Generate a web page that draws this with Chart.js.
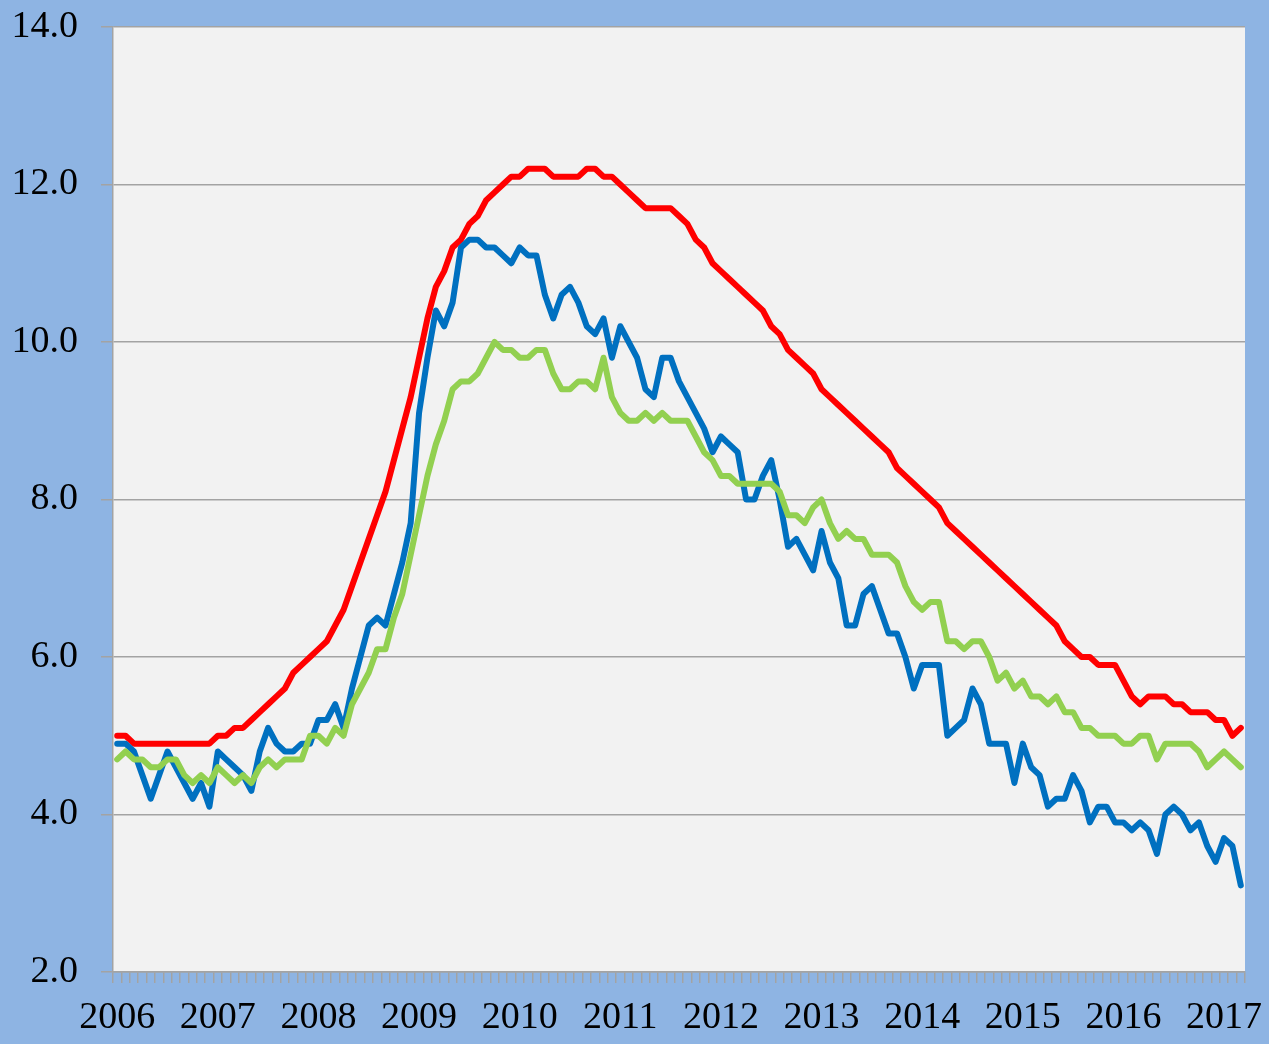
<!DOCTYPE html>
<html>
<head>
<meta charset="utf-8">
<title>Unemployment rate 2006-2017</title>
<script src="https://cdn.jsdelivr.net/npm/chart.js@4.4.1/dist/chart.umd.min.js"></script>
<style>
  html, body { margin: 0; padding: 0; background: #8eb4e3; }
  #wrap { width: 1269px; height: 1044px; }
</style>
</head>
<body>
<div id="wrap"><canvas id="chart" width="1269" height="1044"></canvas></div>
<script>
"use strict";

// Year labels, one per January
const years = ['2006', '2007', '2008', '2009', '2010', '2011', '2012', '2013', '2014', '2015', '2016', '2017'];

// Monthly values, Jan 2006 - Mar 2017
const redSeries = [
    5.0, 5.0, 4.9, 4.9, 4.9, 4.9, 4.9, 4.9, 4.9, 4.9, 4.9, 4.9,
    5.0, 5.0, 5.1, 5.1, 5.2, 5.3, 5.4, 5.5, 5.6, 5.8, 5.9, 6.0,
    6.1, 6.2, 6.4, 6.6, 6.9, 7.2, 7.5, 7.8, 8.1, 8.5, 8.9, 9.3,
    9.8, 10.3, 10.7, 10.9, 11.2, 11.3, 11.5, 11.6, 11.8, 11.9, 12.0, 12.1,
    12.1, 12.2, 12.2, 12.2, 12.1, 12.1, 12.1, 12.1, 12.2, 12.2, 12.1, 12.1,
    12.0, 11.9, 11.8, 11.7, 11.7, 11.7, 11.7, 11.6, 11.5, 11.3, 11.2, 11.0,
    10.9, 10.8, 10.7, 10.6, 10.5, 10.4, 10.2, 10.1, 9.9, 9.8, 9.7, 9.6,
    9.4, 9.3, 9.2, 9.1, 9.0, 8.9, 8.8, 8.7, 8.6, 8.4, 8.3, 8.2,
    8.1, 8.0, 7.9, 7.7, 7.6, 7.5, 7.4, 7.3, 7.2, 7.1, 7.0, 6.9,
    6.8, 6.7, 6.6, 6.5, 6.4, 6.2, 6.1, 6.0, 6.0, 5.9, 5.9, 5.9,
    5.7, 5.5, 5.4, 5.5, 5.5, 5.5, 5.4, 5.4, 5.3, 5.3, 5.3, 5.2,
    5.2, 5.0, 5.1
];

const blueSeries = [
    4.9, 4.9, 4.8, 4.5, 4.2, 4.5, 4.8, 4.6, 4.4, 4.2, 4.4, 4.1,
    4.8, 4.7, 4.6, 4.5, 4.3, 4.8, 5.1, 4.9, 4.8, 4.8, 4.9, 4.9,
    5.2, 5.2, 5.4, 5.1, 5.6, 6.0, 6.4, 6.5, 6.4, 6.8, 7.2, 7.7,
    9.1, 9.8, 10.4, 10.2, 10.5, 11.2, 11.3, 11.3, 11.2, 11.2, 11.1, 11.0,
    11.2, 11.1, 11.1, 10.6, 10.3, 10.6, 10.7, 10.5, 10.2, 10.1, 10.3, 9.8,
    10.2, 10.0, 9.8, 9.4, 9.3, 9.8, 9.8, 9.5, 9.3, 9.1, 8.9, 8.6,
    8.8, 8.7, 8.6, 8.0, 8.0, 8.3, 8.5, 8.0, 7.4, 7.5, 7.3, 7.1,
    7.6, 7.2, 7.0, 6.4, 6.4, 6.8, 6.9, 6.6, 6.3, 6.3, 6.0, 5.6,
    5.9, 5.9, 5.9, 5.0, 5.1, 5.2, 5.6, 5.4, 4.9, 4.9, 4.9, 4.4,
    4.9, 4.6, 4.5, 4.1, 4.2, 4.2, 4.5, 4.3, 3.9, 4.1, 4.1, 3.9,
    3.9, 3.8, 3.9, 3.8, 3.5, 4.0, 4.1, 4.0, 3.8, 3.9, 3.6, 3.4,
    3.7, 3.6, 3.1
];

const greenSeries = [
    4.7, 4.8, 4.7, 4.7, 4.6, 4.6, 4.7, 4.7, 4.5, 4.4, 4.5, 4.4,
    4.6, 4.5, 4.4, 4.5, 4.4, 4.6, 4.7, 4.6, 4.7, 4.7, 4.7, 5.0,
    5.0, 4.9, 5.1, 5.0, 5.4, 5.6, 5.8, 6.1, 6.1, 6.5, 6.8, 7.3,
    7.8, 8.3, 8.7, 9.0, 9.4, 9.5, 9.5, 9.6, 9.8, 10.0, 9.9, 9.9,
    9.8, 9.8, 9.9, 9.9, 9.6, 9.4, 9.4, 9.5, 9.5, 9.4, 9.8, 9.3,
    9.1, 9.0, 9.0, 9.1, 9.0, 9.1, 9.0, 9.0, 9.0, 8.8, 8.6, 8.5,
    8.3, 8.3, 8.2, 8.2, 8.2, 8.2, 8.2, 8.1, 7.8, 7.8, 7.7, 7.9,
    8.0, 7.7, 7.5, 7.6, 7.5, 7.5, 7.3, 7.3, 7.3, 7.2, 6.9, 6.7,
    6.6, 6.7, 6.7, 6.2, 6.2, 6.1, 6.2, 6.2, 6.0, 5.7, 5.8, 5.6,
    5.7, 5.5, 5.5, 5.4, 5.5, 5.3, 5.3, 5.1, 5.1, 5.0, 5.0, 5.0,
    4.9, 4.9, 5.0, 5.0, 4.7, 4.9, 4.9, 4.9, 4.9, 4.8, 4.6, 4.7,
    4.8, 4.7, 4.6
];

// One category per month, year shown at each January
const monthLabels = redSeries.map((v, i) => (i % 12 === 0 ? years[i / 12] : ''));

const serifFamily = "'Liberation Serif', 'DejaVu Serif', serif";
const gridGray = '#a3a3a3';

// Paint the light gray plot area behind the lines
const plotBackground = {
    id: 'plotBackground',
    beforeDraw(chart) {
        const a = chart.chartArea;
        const ctx = chart.ctx;
        ctx.save();
        ctx.fillStyle = '#f2f2f2';
        ctx.fillRect(a.left, a.top, a.right - a.left, a.bottom - a.top);
        ctx.restore();
    }
};

function lineSet(data, color) {
    return {
        data: data,
        borderColor: color,
        backgroundColor: color,
        borderWidth: 6,
        pointRadius: 0,
        tension: 0,
        fill: false,
        borderJoinStyle: 'round',
        borderCapStyle: 'round'
    };
}

new Chart(document.getElementById('chart'), {
    type: 'line',
    data: {
        labels: monthLabels,
        datasets: [
            lineSet(greenSeries, '#92d050'),
            lineSet(blueSeries, '#0070c0'),
            lineSet(redSeries, '#ff0000')
        ]
    },
    options: {
        responsive: false,
        animation: false,
        layout: { padding: { top: 27, right: 24, bottom: 0, left: 0 } },
        plugins: {
            legend: { display: false },
            tooltip: { enabled: false }
        },
        scales: {
            x: {
                type: 'category',
                offset: true,
                afterFit(scale) { scale.height = 72; },
                grid: {
                    offset: true,
                    drawOnChartArea: false,
                    drawTicks: true,
                    tickLength: 11,
                    color: gridGray,
                    lineWidth: 1.5
                },
                border: { display: true, color: gridGray, width: 1.5 },
                ticks: {
                    autoSkip: false,
                    maxRotation: 0,
                    minRotation: 0,
                    padding: 12,
                    color: '#000',
                    font: { family: serifFamily, size: 38 }
                }
            },
            y: {
                min: 2,
                max: 14,
                afterFit(scale) { scale.width = 113; },
                grid: {
                    color: gridGray,
                    lineWidth: 1.5,
                    tickLength: 12
                },
                border: { display: true, color: gridGray, width: 1.5 },
                ticks: {
                    stepSize: 2,
                    padding: 23,
                    color: '#000',
                    // small line height keeps the top label from pushing the plot down
                    font: { family: serifFamily, size: 38, lineHeight: 0.1 },
                    callback: v => v.toFixed(1)
                }
            }
        }
    },
    plugins: [plotBackground]
});
</script>
</body>
</html>
